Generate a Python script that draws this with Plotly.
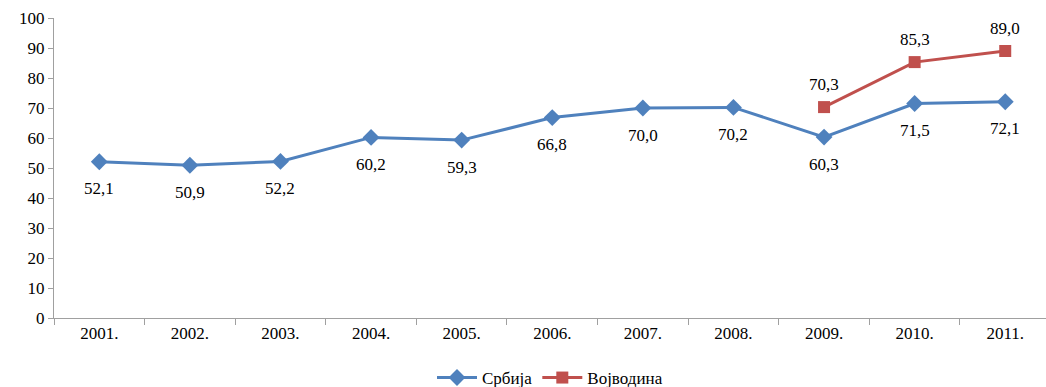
import plotly.graph_objects as go

years = ["2001.", "2002.", "2003.", "2004.", "2005.", "2006.", "2007.", "2008.", "2009.", "2010.", "2011."]
srbija = [52.1, 50.9, 52.2, 60.2, 59.3, 66.8, 70.0, 70.2, 60.3, 71.5, 72.1]
vojvodina_years = ["2009.", "2010.", "2011."]
vojvodina = [70.3, 85.3, 89.0]

def fmt(v):
    return f"{v:.1f}".replace(".", ",")

font_family = "serif"
blue = "#4F81BD"
red = "#C0504D"

fig = go.Figure()
fig.add_trace(go.Scatter(
    x=years, y=srbija, name="Србија", mode="lines+markers",
    line=dict(color=blue, width=3),
    marker=dict(symbol="diamond", size=13, color=blue),
))
fig.add_trace(go.Scatter(
    x=vojvodina_years, y=vojvodina, name="Војводина", mode="lines+markers",
    line=dict(color=red, width=3),
    marker=dict(symbol="square", size=12, color=red),
))

# value labels: Србија below its points, Војводина above
for x, v in zip(years, srbija):
    fig.add_annotation(x=years.index(x), y=v, xref="x", yref="y", text=fmt(v),
                       showarrow=False, yshift=-27,
                       font=dict(family=font_family, size=17, color="#000000"))
for x, v in zip(vojvodina_years, vojvodina):
    fig.add_annotation(x=years.index(x), y=v, xref="x", yref="y", text=fmt(v),
                       showarrow=False, yshift=23,
                       font=dict(family=font_family, size=17, color="#000000"))

fig.update_layout(
    width=1046, height=387,
    margin=dict(l=54, r=0, t=18, b=69, autoexpand=False),
    paper_bgcolor="white", plot_bgcolor="white",
    font=dict(family=font_family, size=17, color="#000000"),
    showlegend=True,
    legend=dict(orientation="h", x=0.5, xanchor="center", y=-0.2, yanchor="middle",
                font=dict(family=font_family, size=17), itemwidth=40,
                tracegroupgap=0),
)
fig.update_xaxes(
    type="category", categoryorder="array", categoryarray=years,
    showline=True, linecolor="#A0A0A0", linewidth=1,
    ticks="outside", tickson="boundaries", ticklen=6, tickcolor="#A0A0A0",
    showgrid=False, zeroline=False, range=[-0.5, 10.45],
    tickfont=dict(family=font_family, size=17, color="#000000"),
)
fig.update_yaxes(
    range=[0, 100], dtick=10, tick0=0,
    showline=True, linecolor="#A0A0A0", linewidth=1,
    ticks="outside", ticklen=5, tickcolor="#A0A0A0",
    showgrid=False, zeroline=False,
    tickfont=dict(family=font_family, size=17, color="#000000"),
)

fig.write_html("out.html")
